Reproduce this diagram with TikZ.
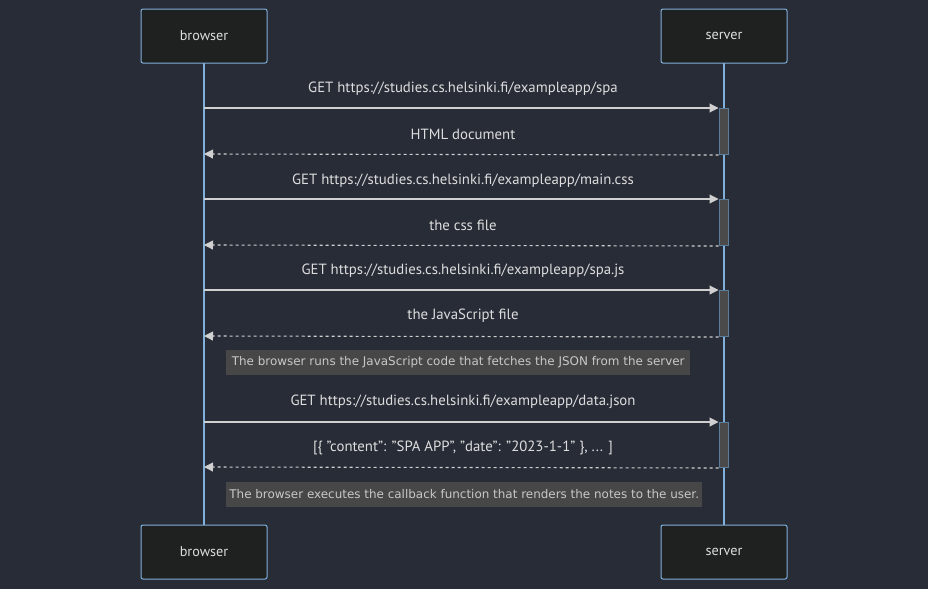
\documentclass[tikz,border=0pt]{standalone}
\usepackage{fontspec}
\setmainfont{PT Sans}
\newfontfamily\notefont{DejaVu Sans}
\usetikzlibrary{arrows.meta}
\definecolor{bg}{HTML}{282C37}
\definecolor{actorfill}{HTML}{1F2020}
\definecolor{actorline}{HTML}{81B1DB}
\definecolor{msgcol}{HTML}{D0D0D0}
\definecolor{txtcol}{HTML}{DDDDDD}
\definecolor{actfill}{HTML}{4A4A4A}
\definecolor{actline}{HTML}{5A7E9C}
\definecolor{notefill}{HTML}{474747}
\definecolor{notetext}{HTML}{C8C8C8}
\tikzset{
  actor/.style={draw=actorline, fill=actorfill, line width=1pt, rounded corners=2pt,
    minimum width=126pt, minimum height=54pt, inner sep=0pt, text=txtcol, font=\fontsize{14.2}{16}\selectfont},
  lifeline/.style={draw=actorline, line width=1.3pt},
  activ/.style={draw=actline, fill=actfill, line width=1pt, minimum width=9pt, inner sep=0pt, anchor=north},
  msg/.style={draw=msgcol, line width=1.1pt, -{Triangle[length=9pt,width=9pt]}},
  ret/.style={msg, dash pattern=on 3pt off 3pt},
  mlabel/.style={text=txtcol, font=\fontsize{14.8}{16}\selectfont, inner sep=0pt},
  note/.style={fill=notefill, text=notetext, font=\notefont\fontsize{11.95}{14}\selectfont, inner sep=0pt, minimum height=25pt, anchor=west}
}
\begin{document}
\begin{tikzpicture}[x=1pt,y=-1pt]
\fill[bg] (0,0) rectangle (928,589);
\useasboundingbox (0,0) rectangle (928,589);
% lifelines
\coordinate (bl1) at (204,63);
\coordinate (bl2) at (204,525);
\coordinate (sl1) at (724,63);
\coordinate (sl2) at (724,525);
\draw[lifeline] (bl1) -- (bl2);
\draw[lifeline] (sl1) -- (sl2);
% actors
\node[actor] (btop) at (204,36) {browser};
\node[actor] (stop) at (724,36) {server};
\node[actor] (bbot) at (204,552) {browser};
\node[actor] (sbot) at (724,552) {server};
% activations
\node[activ, minimum height=46pt] (a1) at (723.5,108) {};
\node[activ, minimum height=46pt] (a2) at (723.5,199) {};
\node[activ, minimum height=46pt] (a3) at (723.5,290) {};
\node[activ, minimum height=45pt] (a4) at (723.5,422) {};
% browser side points
\coordinate (m1) at (204,108);
\coordinate (r1) at (204,154);
\coordinate (m2) at (204,199);
\coordinate (r2) at (204,245);
\coordinate (m3) at (204,290);
\coordinate (r3) at (204,336);
\coordinate (m4) at (204,422);
\coordinate (r4) at (204,467);
% messages
\draw[msg] (m1) -- (a1.north west);
\draw[ret] (a1.south west) -- (r1);
\draw[msg] (m2) -- (a2.north west);
\draw[ret] (a2.south west) -- (r2);
\draw[msg] (m3) -- (a3.north west);
\draw[ret] (a3.south west) -- (r3);
\draw[msg] (m4) -- (a4.north west);
\draw[ret] (a4.south west) -- (r4);
% labels
\node[mlabel] (l1) at (463,89) {GET https://studies.cs.helsinki.fi/exampleapp/spa};
\node[mlabel] (l2) at (463,134) {HTML document};
\node[mlabel] (l3) at (463,181) {GET https://studies.cs.helsinki.fi/exampleapp/main.css};
\node[mlabel] (l4) at (463,225) {the css file};
\node[mlabel] (l5) at (463,271) {GET https://studies.cs.helsinki.fi/exampleapp/spa.js};
\node[mlabel] (l6) at (463,316) {the JavaScript file};
\node[mlabel] (l7) at (463,402) {GET https://studies.cs.helsinki.fi/exampleapp/data.json};
\node[mlabel] (l8) at (463,448) {[\{ "content": "SPA APP", "date": "2023-1-1" \}, ... ]};
% notes
\node[note, minimum width=464pt] (n1) at (226,362.5) {The browser runs the JavaScript code that fetches the JSON from the server};
\node[note, minimum width=476pt] (n2) at (226,494) {The browser executes the callback function that renders the notes to the user.};
\end{tikzpicture}
\end{document}
